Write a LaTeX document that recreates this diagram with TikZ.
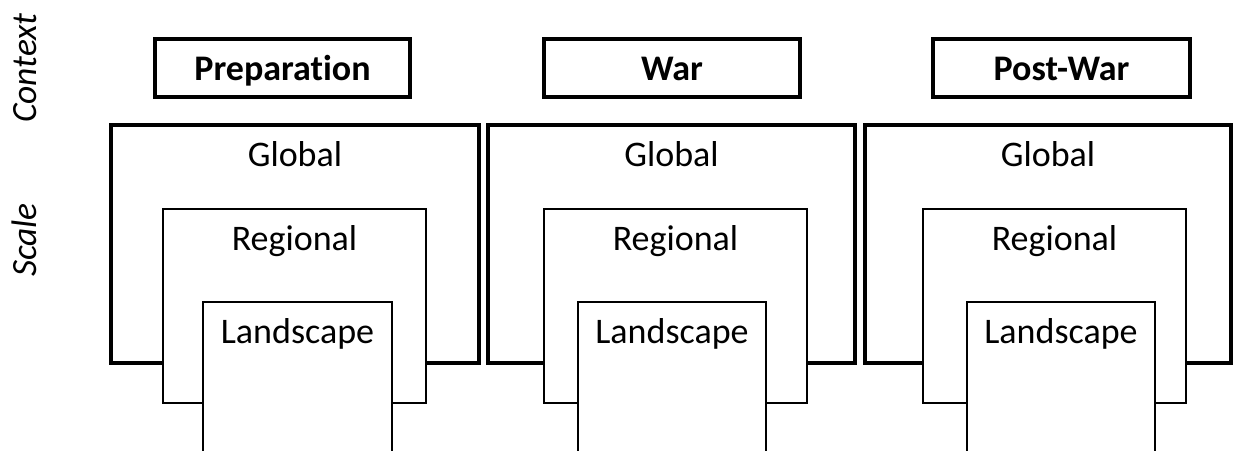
\documentclass[tikz,border=0pt]{standalone}
\usepackage{fontspec}
\setmainfont{Carlito}[Ligatures={NoCommon}]
\begin{document}
\begin{tikzpicture}[x=1pt,y=-1pt,
  ctxbox/.style={draw=black, line width=4pt, fill=white},
  globalbox/.style={draw=black, line width=4pt, fill=white},
  innerbox/.style={draw=black, line width=2.7pt, fill=white},
  lbl/.style={font=\fontsize{36}{43}\selectfont, anchor=base, inner sep=0pt},
  ctxlbl/.style={font=\fontsize{36}{43}\selectfont\bfseries, anchor=base, inner sep=0pt},
  axislbl/.style={font=\fontsize{35.5}{42}\selectfont\itshape, rotate=90, anchor=center, inner sep=0pt}]
\useasboundingbox (0,0) rectangle (1233,450);
\clip (0,0) rectangle (1233,450);

% axis captions on the left
\node[axislbl] (ctx) at (25,68) {Context};
\node[axislbl] (scl) at (24,240) {Scale};

% context headers
\draw[ctxbox] (155,39) rectangle (410,97);
\node[ctxlbl] (prep) at (282.5,80) {Preparation};
\draw[ctxbox] (544,39) rectangle (800,97);
\node[ctxlbl] (war) at (672,80) {War};
\draw[ctxbox] (933,39) rectangle (1190,97);
\node[ctxlbl] (post) at (1061.5,80) {Post-War};

% nested scales, panel 1
\draw[globalbox] (111,125) rectangle (479,363);
\node[lbl] (g1) at (295,166) {Global};
\draw[innerbox] (163,209) rectangle (426,403);
\node[lbl] (r1) at (294.5,250) {Regional};
\draw[innerbox] (203,302) rectangle (392,460);
\node[lbl] (l1) at (297.5,343) {Landscape};

% nested scales, panel 2
\draw[globalbox] (488,125) rectangle (855,363);
\node[lbl] (g2) at (671.5,166) {Global};
\draw[innerbox] (544,209) rectangle (807,403);
\node[lbl] (r2) at (675.5,250) {Regional};
\draw[innerbox] (578,302) rectangle (766,460);
\node[lbl] (l2) at (672,343) {Landscape};

% nested scales, panel 3
\draw[globalbox] (865,125) rectangle (1231,363);
\node[lbl] (g3) at (1048,166) {Global};
\draw[innerbox] (923,209) rectangle (1186,403);
\node[lbl] (r3) at (1054.5,250) {Regional};
\draw[innerbox] (967,302) rectangle (1155,460);
\node[lbl] (l3) at (1061,343) {Landscape};
\end{tikzpicture}
\end{document}
